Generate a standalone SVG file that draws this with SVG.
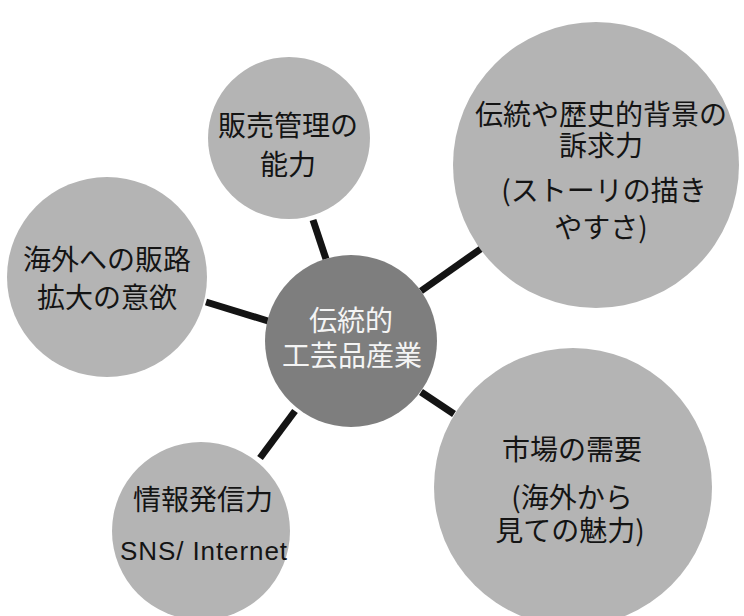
<svg xmlns="http://www.w3.org/2000/svg" width="744" height="616" viewBox="0 0 744 616">
<style>
.bg{fill:#ffffff}
.node{fill:#b4b4b4}
.hub{fill:#7e7e7e}
.t{font-family:"Noto Sans CJK JP","Noto Sans CJK SC",sans-serif;font-size:28px;fill:#141414;text-anchor:middle}
.tw{font-family:"Noto Sans CJK JP","Noto Sans CJK SC",sans-serif;font-size:28px;fill:#f4f4f4;text-anchor:middle}
.lat{font-family:"Liberation Sans",Arial,sans-serif;font-size:26px;fill:#141414;text-anchor:middle}
.edge{stroke:#141414;stroke-width:7;stroke-linecap:butt;fill:none}
</style>
<rect class="bg" x="0" y="0" width="744" height="616"/>
<g id="connectors">
<line class="edge" x1="313" y1="220" x2="326" y2="259"/>
<line class="edge" x1="421" y1="291" x2="482" y2="248"/>
<line class="edge" x1="206" y1="302" x2="268" y2="321"/>
<line class="edge" x1="295" y1="411" x2="260" y2="458"/>
<line class="edge" x1="421" y1="392" x2="454" y2="414"/>
</g>
<g id="node-sales">
<circle class="node" cx="289" cy="138" r="81"/>
<text class="t" x="288" y="136">販売管理の</text>
<text class="t" x="288" y="175">能力</text>
</g>
<g id="node-tradition">
<circle class="node" cx="596" cy="165" r="143"/>
<text class="t" x="601" y="125">伝統や歴史的背景の</text>
<text class="t" x="601" y="156">訴求力</text>
<text class="t" x="604" y="201">(ストーリの描き</text>
<text class="t" x="601" y="238">やすさ)</text>
</g>
<g id="node-overseas">
<circle class="node" cx="107" cy="277" r="100"/>
<text class="t" x="107" y="270">海外への販路</text>
<text class="t" x="107" y="308">拡大の意欲</text>
</g>
<g id="node-info">
<circle class="node" cx="201" cy="531" r="89"/>
<text class="t" x="203" y="510">情報発信力</text>
<text class="lat" x="203.5" y="560" textLength="167" lengthAdjust="spacing">SNS/ Internet</text>
</g>
<g id="node-market">
<circle class="node" cx="573" cy="487" r="139"/>
<text class="t" x="572" y="460">市場の需要</text>
<text class="t" x="572" y="508">(海外から</text>
<text class="t" x="570" y="541">見ての魅力)</text>
</g>
<g id="node-center">
<circle class="hub" cx="351" cy="341" r="86"/>
<text class="tw" x="351" y="331">伝統的</text>
<text class="tw" x="352" y="366">工芸品産業</text>
</g>
</svg>
